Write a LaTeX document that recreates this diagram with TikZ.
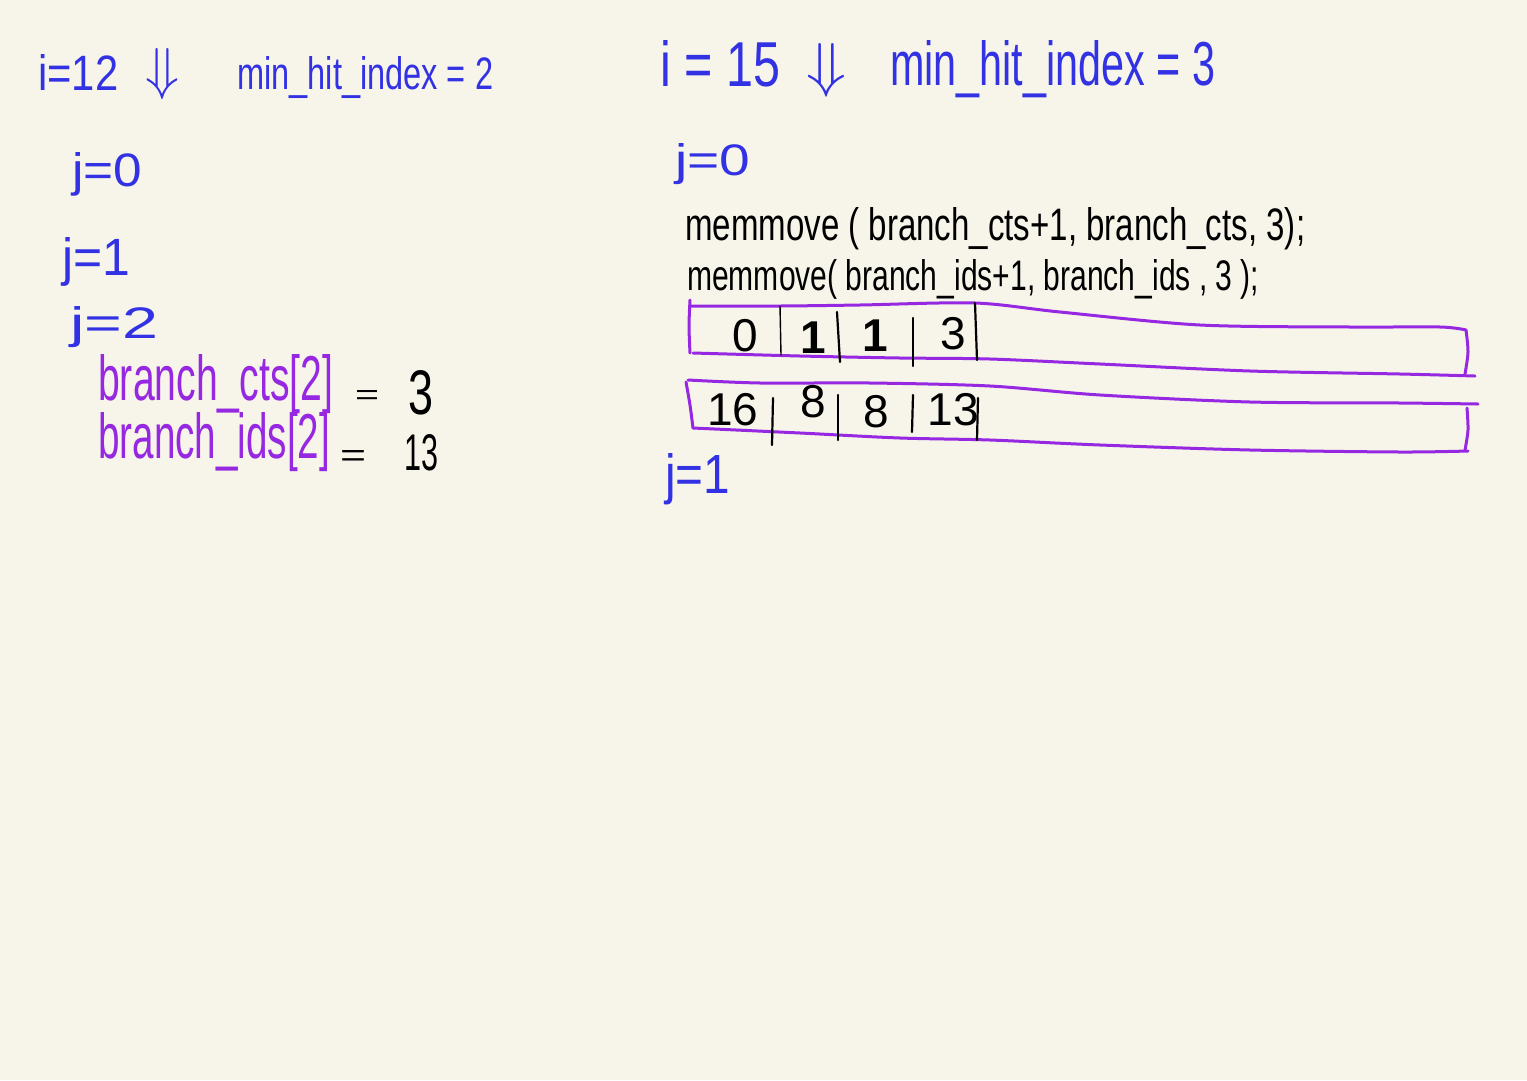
\documentclass[tikz,border=0pt]{standalone}
\usepackage{fontspec}
\setmainfont{Liberation Sans}
\usepackage{graphicx}
\definecolor{paper}{RGB}{247,245,234}
\definecolor{ink}{RGB}{50,50,228}
\definecolor{violet2}{RGB}{150,40,225}
\newcommand\fitwh[3]{\resizebox{#1pt}{#2pt}{#3}}
\tikzset{
  hand/.style={inner sep=0pt, anchor=base west},
  blu/.style={hand, text=ink},
  pur/.style={hand, text=violet2},
  blk/.style={hand, text=black},
  digit/.style={inner sep=0pt, text=black, font=\fontsize{46}{46}\selectfont},
  dnarrow/.style={inner sep=0pt, text=ink},
  cellbox/.style={draw=violet2, line width=3pt, line cap=round, line join=round},
  divider/.style={draw=black, line width=2.2pt, line cap=round},
}
\begin{document}
\begin{tikzpicture}[x=1pt, y=-1pt]
\useasboundingbox[fill=paper] (0,0) rectangle (1527,1080);

% ---- left column ----
\node[blu] (i12) at (38,90) {\fitwh{80}{36}{i=12}};
\node[dnarrow] (arrL) at (163,74) {\fitwh{34}{40}{$\Downarrow$}};
\node[blu] (minL) at (237,89) {\fitwh{256}{33}{min\_hit\_index = 2}};

\node[blu] (j0L) at (72,186) {\fitwh{70}{34}{j=0}};
\node[blu] (j1L) at (62,275) {\fitwh{68}{38}{j=1}};
\node[blu] (j2L) at (70,338) {\fitwh{88}{32}{j=2}};

\node[pur] (ctsL) at (98,400) {\fitwh{235}{46}{branch\_cts[2]}};
\node[blk] (eqA) at (355,404) {\fitwh{24}{14}{=}};
\node[blk] (threeL) at (408,414) {\fitwh{25}{44}{3}};
\node[pur] (idsL) at (98,458) {\fitwh{232}{46}{branch\_ids[2]}};
\node[blk] (eqB) at (340,466) {\fitwh{26}{16}{=}};
\node[blk] (thirteen) at (404,470) {\fitwh{34}{36}{13}};

% ---- right column ----
\node[blu] (i15) at (660,86) {\fitwh{120}{46}{i = 15}};
\node[dnarrow] (arrR) at (826,70) {\fitwh{40}{42}{$\Downarrow$}};
\node[blu] (minR) at (890,85) {\fitwh{325}{45}{min\_hit\_index = 3}};

\node[blu] (j0R) at (675,175) {\fitwh{75}{32}{j=0}};
\node[blk] (mm1) at (685,240) {\fitwh{620}{33}{memmove ( branch\_cts+1, branch\_cts, 3);}};
\node[blk] (mm2) at (687,290) {\fitwh{572}{31}{memmove( branch\_ids+1, branch\_ids , 3 );}};

% array 1 (branch_cts)
\draw[cellbox] plot[smooth] coordinates {(690,306) (780,306) (860,305) (975,303) (1060,312) (1200,325) (1350,327) (1440,327) (1466,330)};
\draw[cellbox] plot[smooth] coordinates {(1466,330) (1468,352) (1465,374)};
\draw[cellbox] plot[smooth] coordinates {(693,353) (800,356) (900,358) (990,359) (1100,364) (1250,371) (1400,374) (1475,376)};
\draw[cellbox] plot[smooth] coordinates {(690,300) (689,326) (690,353)};
\node[digit] (c0) at (745,336) {0};
\node[digit, font=\bfseries\fontsize{46}{46}\selectfont] (c1) at (813,338) {1};
\node[digit, font=\bfseries\fontsize{46}{46}\selectfont] (c2) at (875,336) {1};
\node[digit] (c3) at (953,334) {3};
\draw[divider, line width=1.4pt] (780,306) -- (781,355);
\draw[divider] (837,312) -- (840,362);
\draw[divider] (913,318) -- (913,366);
\draw[divider] (975,303) -- (977,360);

% array 2 (branch_ids)
\draw[cellbox] plot[smooth] coordinates {(688,380) (760,383) (870,383) (990,386) (1100,395) (1250,402) (1400,403) (1478,404)};
\draw[cellbox] plot[smooth] coordinates {(686,382) (690,405) (693,428)};
\draw[cellbox] plot[smooth] coordinates {(693,428) (800,433) (900,438) (990,440) (1100,445) (1250,450) (1400,452) (1468,451)};
\draw[cellbox] plot[smooth] coordinates {(1467,408) (1468,430) (1465,450)};
\node[digit] (d0) at (733,410) {16};
\node[digit] (d1) at (813,402) {8};
\node[digit] (d2) at (876,412) {8};
\node[digit] (d3) at (953,410) {13};
\draw[divider] (773,398) -- (772,445);
\draw[divider] (838,395) -- (838,440);
\draw[divider] (913,395) -- (912,432);
\draw[divider] (978,398) -- (977,440);

\node[blu] (j1R) at (665,493) {\fitwh{65}{40}{j=1}};
\end{tikzpicture}
\end{document}
